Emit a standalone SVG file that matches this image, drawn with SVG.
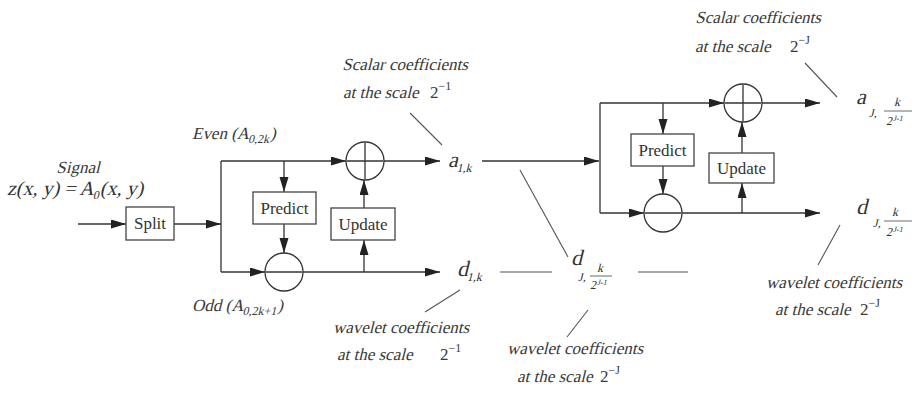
<svg xmlns="http://www.w3.org/2000/svg" width="917" height="395" viewBox="0 0 917 395">
<style>
.ln{stroke:#333;stroke-width:1.3;fill:none}
.ar{stroke:#333;stroke-width:1.3;fill:none;marker-end:url(#ah)}
.an{stroke:#555;stroke-width:1.1;fill:none}
.fb{stroke:#444;stroke-width:0.8}
.box{fill:#fff;stroke:#444;stroke-width:1.3}
.cir{fill:#fff;stroke:#333;stroke-width:1.3}
text{font-family:"Liberation Serif","Times New Roman",serif;fill:#333}
.bt{font-size:17px;text-anchor:middle}
.it{font-size:17px;fill:#3a3a3a}
.m{font-size:22px}
.s{font-size:12px}
.eq{font-size:20px}
.up{font-size:17px;fill:#3a3a3a}
</style>
<defs>
<marker id="ah" markerUnits="userSpaceOnUse" markerWidth="16" markerHeight="10" refX="15" refY="4.5" orient="auto">
<path d="M0,0 L15,4.5 L0,9 z" fill="#222"/>
</marker>
</defs>
<g id="connectors">
<line class="ar" x1="78" y1="224" x2="126" y2="224"/>
<line class="ar" x1="174" y1="224" x2="221" y2="224"/>
<line class="ln" x1="221" y1="161" x2="221" y2="272"/>
<line class="ar" x1="221" y1="161" x2="346" y2="161"/>
<line class="ar" x1="284" y1="161" x2="284" y2="192"/>
<line class="ar" x1="284" y1="224" x2="284" y2="253"/>
<line class="ar" x1="221" y1="272" x2="265" y2="272"/>
<line class="ar" x1="303" y1="272" x2="440" y2="272"/>
<line class="ar" x1="364" y1="272" x2="364" y2="240"/>
<line class="ar" x1="364" y1="208" x2="364" y2="180"/>
<line class="ar" x1="384" y1="161" x2="440" y2="161"/>
<line class="ar" x1="482" y1="161" x2="599" y2="161"/>
<line class="ln" x1="600" y1="103" x2="600" y2="213"/>
<line class="ar" x1="600" y1="103" x2="724" y2="103"/>
<line class="ar" x1="663" y1="103" x2="663" y2="134"/>
<line class="ar" x1="663" y1="166" x2="663" y2="194"/>
<line class="ar" x1="600" y1="213" x2="644" y2="213"/>
<line class="ar" x1="682" y1="213" x2="820" y2="213"/>
<line class="ar" x1="742" y1="213" x2="742" y2="183"/>
<line class="ar" x1="742" y1="153" x2="742" y2="122"/>
<line class="ar" x1="762" y1="103" x2="820" y2="103"/>
<line class="an" x1="500" y1="272" x2="552" y2="272"/>
<line class="an" x1="638" y1="272" x2="688" y2="272"/>
<line class="an" x1="520" y1="170" x2="568" y2="257"/>
<line class="an" x1="410" y1="113" x2="442" y2="145"/>
<line class="an" x1="460" y1="290" x2="425" y2="312"/>
<line class="an" x1="588" y1="310" x2="567" y2="337"/>
<line class="an" x1="805" y1="63" x2="837" y2="97"/>
<line class="an" x1="840" y1="225" x2="818" y2="265"/>
</g>
<g id="split"><rect class="box" x="126" y="207" width="48" height="33"/><text class="bt" x="150" y="229">Split</text></g>
<g id="predict1"><rect class="box" x="253" y="192" width="63" height="32"/><text class="bt" x="284.5" y="214">Predict</text></g>
<g id="update1"><rect class="box" x="331" y="208" width="64" height="32"/><text class="bt" x="363" y="230">Update</text></g>
<g id="plus1"><circle class="cir" cx="365" cy="161" r="19"/><line class="ln" x1="347" y1="161" x2="383" y2="161"/><line class="ln" x1="365" y1="143" x2="365" y2="179"/></g>
<g id="minus1"><circle class="cir" cx="284" cy="272" r="19"/><line class="ln" x1="266" y1="272" x2="302" y2="272"/></g>
<g id="predict2"><rect class="box" x="631" y="134" width="63" height="32"/><text class="bt" x="662.5" y="156">Predict</text></g>
<g id="update2"><rect class="box" x="709" y="153" width="65" height="30"/><text class="bt" x="741.5" y="174">Update</text></g>
<g id="plus2"><circle class="cir" cx="743" cy="103" r="19"/><line class="ln" x1="725" y1="103" x2="761" y2="103"/><line class="ln" x1="743" y1="85" x2="743" y2="121"/></g>
<g id="minus2"><circle class="cir" cx="663" cy="213" r="19"/><line class="ln" x1="645" y1="213" x2="681" y2="213"/></g>
<g id="signal">
<text class="it" transform="translate(78,173) skewX(-14)" text-anchor="middle">Signal</text>
<text class="eq" transform="translate(7,195) skewX(-14)">z(x, y) = A<tspan class="s" dy="4">0</tspan><tspan dy="-4">(x, y)</tspan></text>
</g>
<g id="even"><text class="it" transform="translate(192,139) skewX(-14)" font-size="18">Even  (A<tspan class="s" dy="4">0,2k</tspan><tspan dy="-4">)</tspan></text></g>
<g id="odd"><text class="it" transform="translate(192,311) skewX(-14)">Odd (A<tspan class="s" dy="4">0,2k+1</tspan><tspan dy="-4">)</tspan></text></g>
<g id="a1k"><text class="m" transform="translate(448,167) skewX(-14)">a<tspan class="s" dy="5">1,k</tspan></text></g>
<g id="d1k"><text class="m" transform="translate(457,276) skewX(-14)">d<tspan class="s" dy="5">1,k</tspan></text></g>
<g id="dJmid">
<text class="m" transform="translate(571,265) skewX(-14)">d</text>
<text class="s" transform="translate(578,281) skewX(-14)" font-size="11">J,</text>
<text class="s" transform="translate(597,272) skewX(-14)" font-size="10">k</text>
<line class="fb" x1="590" y1="276" x2="612" y2="276"/>
<text class="s" transform="translate(590,289) skewX(-14)" font-size="11">2<tspan font-size="8" dy="-4">J-1</tspan></text>
</g>
<g id="aJ">
<text class="m" transform="translate(856,104) skewX(-14)">a</text>
<text class="s" transform="translate(869,117) skewX(-14)" font-size="11">J,</text>
<text class="s" transform="translate(894,106) skewX(-14)" font-size="10">k</text>
<line class="fb" x1="884" y1="111" x2="912" y2="111"/>
<text class="s" transform="translate(886,125) skewX(-14)" font-size="11">2<tspan font-size="8" dy="-4">J-1</tspan></text>
</g>
<g id="dJ">
<text class="m" transform="translate(856,214) skewX(-14)">d</text>
<text class="s" transform="translate(873,227) skewX(-14)" font-size="11">J,</text>
<text class="s" transform="translate(892,216) skewX(-14)" font-size="10">k</text>
<line class="fb" x1="884" y1="221" x2="912" y2="221"/>
<text class="s" transform="translate(886,236) skewX(-14)" font-size="11">2<tspan font-size="8" dy="-4">J-1</tspan></text>
</g>
<g id="label-scalar1">
<text class="it" transform="translate(405,70) skewX(-14)" text-anchor="middle">Scalar coefficients</text>
<text class="it" transform="translate(343,98) skewX(-14)">at the scale</text>
<text class="up" x="430" y="98">2<tspan font-size="12" dy="-8">−1</tspan></text>
</g>
<g id="label-wave1">
<text class="it" transform="translate(401,333) skewX(-14)" text-anchor="middle">wavelet coefficients</text>
<text class="it" transform="translate(337,360) skewX(-14)">at the scale</text>
<text class="up" x="440" y="360">2<tspan font-size="12" dy="-8">−1</tspan></text>
</g>
<g id="label-waveJ">
<text class="it" transform="translate(575,354) skewX(-14)" text-anchor="middle">wavelet coefficients</text>
<text class="it" transform="translate(517,382) skewX(-14)">at the scale</text>
<text class="up" x="600" y="382">2<tspan font-size="12" dy="-8">−J</tspan></text>
</g>
<g id="label-scalarJ">
<text class="it" transform="translate(758,23) skewX(-14)" text-anchor="middle">Scalar coefficients</text>
<text class="it" transform="translate(695,52) skewX(-14)">at the scale</text>
<text class="up" x="790" y="52">2<tspan font-size="12" dy="-8">−J</tspan></text>
</g>
<g id="label-waveJr">
<text class="it" transform="translate(834,288) skewX(-14)" text-anchor="middle">wavelet coefficients</text>
<text class="it" transform="translate(775,315) skewX(-14)">at the scale</text>
<text class="up" x="860" y="315">2<tspan font-size="12" dy="-8">−J</tspan></text>
</g>
</svg>
